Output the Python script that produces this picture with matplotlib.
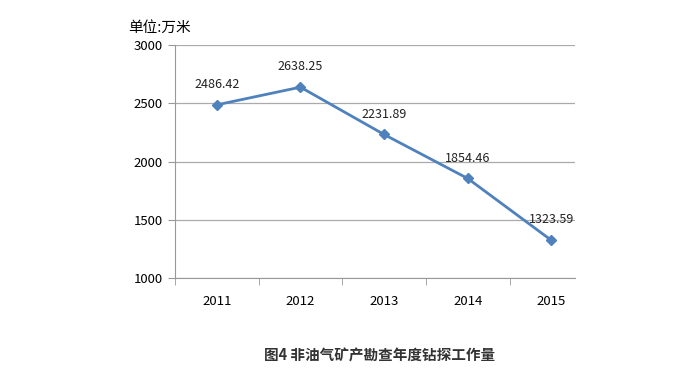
import matplotlib
matplotlib.use("Agg")
import matplotlib.pyplot as plt

plt.rcParams['font.family'] = ['Noto Sans CJK SC', 'DejaVu Sans']

years = ["2011", "2012", "2013", "2014", "2015"]
values = [2486.42, 2638.25, 2231.89, 1854.46, 1323.59]
labels = ["2486.42", "2638.25", "2231.89", "1854.46", "1323.59"]

fig = plt.figure(figsize=(6.77, 3.72), dpi=100)
ax = fig.add_axes([0.2585, 0.2527, 0.5905, 0.6263])

x = list(range(len(years)))
ax.plot(x, values, color="#4F81BD", linewidth=2, marker="D", markersize=5)

for xi, v, lab in zip(x, values, labels):
    ax.annotate(lab, (xi, v), xytext=(0, 10), textcoords="offset points",
                ha="center", va="bottom", fontsize=9, color="#222222")

ax.set_ylim(1000, 3000)
ax.set_yticks([1000, 1500, 2000, 2500, 3000])
ax.set_xlim(-0.5, 4.28)
ax.set_xticks(x)
ax.set_xticklabels(years)
ax.set_xticks([i - 0.5 for i in range(5)], minor=True)
ax.tick_params(axis="x", which="major", length=0, pad=12, labelsize=9.5)
ax.tick_params(axis="x", which="minor", length=5, color="#999999", direction="out")
ax.tick_params(axis="y", length=5, color="#999999", labelsize=9.5, pad=4)
ax.grid(axis="y", color="#aaaaaa", linewidth=0.9)
ax.set_axisbelow(True)
for s in ["top", "right"]:
    ax.spines[s].set_visible(False)
ax.spines["left"].set_color("#999999")
ax.spines["bottom"].set_color("#999999")

fig.text(0.189, 0.925, "单位:万米", fontsize=10.5, ha="left", va="center")
fig.text(0.56, 0.045, "图4 非油气矿产勘查年度钻探工作量", fontsize=10.5,
         fontweight="bold", ha="center", va="center", color="#333333")

fig.savefig("out.png", dpi=100)
